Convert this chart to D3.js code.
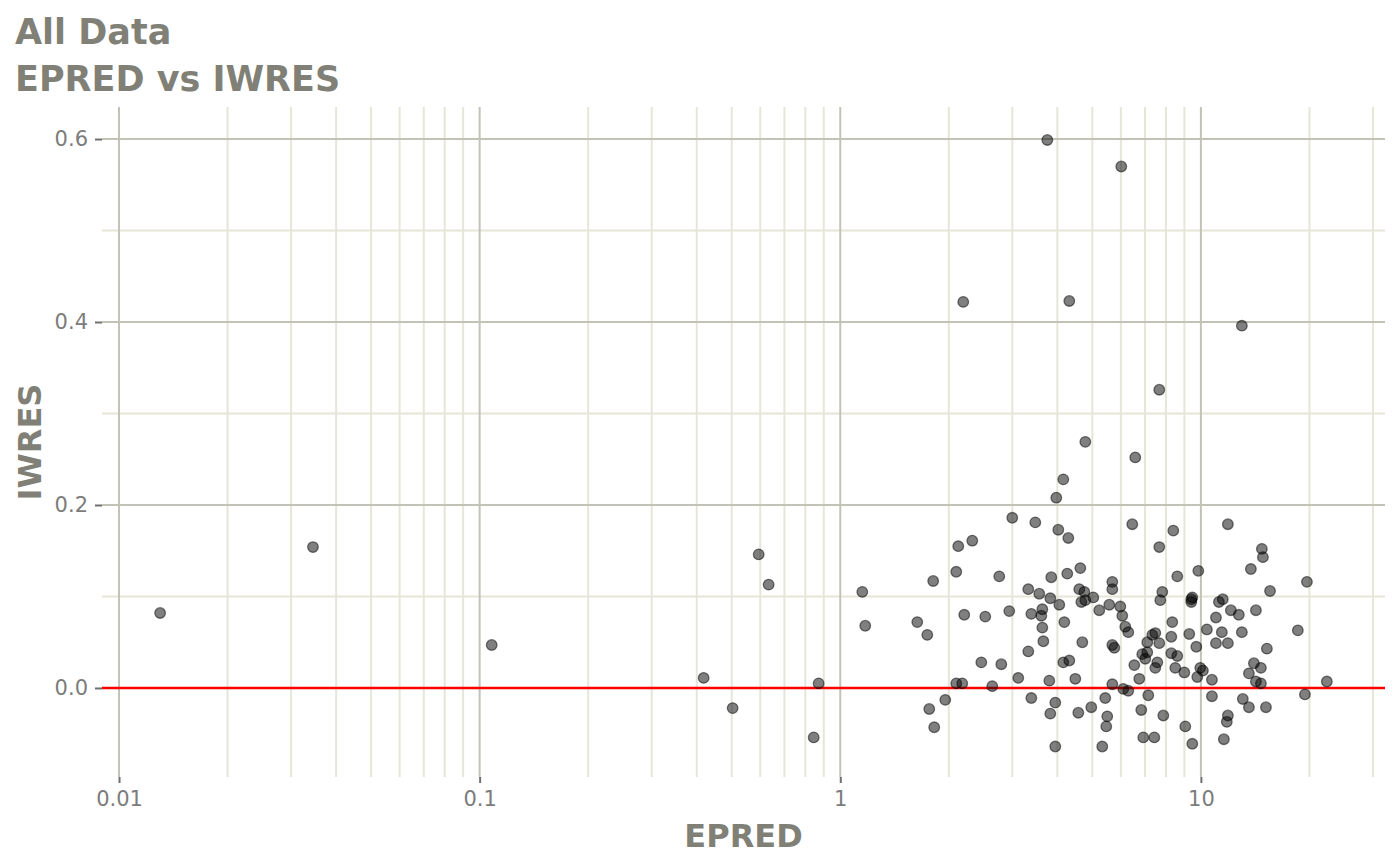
<!DOCTYPE html>
<html><head><meta charset="utf-8">
<script src="https://cdn.jsdelivr.net/npm/d3@7"></script>
<style>body{margin:0;background:#fff;} svg{display:block;font-family:"DejaVu Sans",sans-serif;}</style>
</head><body><svg id="chart" width="1400" height="865"></svg>
<script>
const titleLines = ["All Data", "EPRED vs IWRES"];
const xLabel = "EPRED", yLabel = "IWRES";
const xTicks = [0.01, 0.1, 1, 10];
const xTickLabels = ["0.01", "0.1", "1", "10"];
const yTicks = [0, 0.2, 0.4, 0.6];
const yTickLabels = ["0.0", "0.2", "0.4", "0.6"];
const yMinor = [0.1, 0.3, 0.5];
const xDomain = [0.00897, 32.4];
const yDomain = [-0.0973, 0.635];

const epred = [0.0130,0.0345,0.108,0.418,0.503,0.594,0.633,0.844,0.871,1.151,
1.173,1.635,1.743,1.765,1.810,1.822,1.955,2.097,2.124,2.097,
2.179,2.193,2.207,2.323,2.461,2.524,2.639,2.760,2.796,2.942,
2.999,3.116,3.322,3.322,3.387,3.387,3.474,3.563,3.633,3.610,
3.633,3.657,3.751,3.799,3.823,3.823,3.847,3.947,3.947,3.972,
4.023,4.049,4.154,4.154,4.181,4.289,4.261,4.316,4.316,4.485,
4.572,4.600,4.661,4.631,4.690,4.751,4.781,4.781,4.967,5.031,
5.226,5.327,5.430,5.500,5.465,5.571,5.680,5.680,5.680,5.680,
5.754,5.977,6.015,6.054,6.093,6.171,6.290,6.290,6.453,6.537,
6.577,6.747,6.834,6.878,6.923,7.011,7.101,7.147,7.101,7.333,
7.475,7.428,7.571,7.475,7.667,7.667,7.667,7.717,7.816,7.867,
8.278,8.278,8.330,8.385,8.492,8.601,8.601,8.996,9.052,9.285,
9.406,9.406,9.466,9.466,9.711,9.773,9.837,9.961,10.13,10.39,
10.73,10.73,11.01,11.01,11.43,11.22,11.50,11.88,11.88,11.88,
11.80,11.58,12.11,12.74,12.99,12.99,13.07,13.59,13.59,13.76,
14.03,14.21,14.21,14.67,14.67,14.76,14.86,15.15,15.24,15.55,
18.57,19.43,19.68,22.35];
const iwres = [0.082,0.154,0.047,0.011,-0.022,0.146,0.113,-0.054,0.005,0.105,
0.068,0.072,0.058,-0.023,0.117,-0.043,-0.013,0.005,0.155,0.127,
0.005,0.422,0.080,0.161,0.028,0.078,0.002,0.122,0.026,0.084,
0.186,0.011,0.108,0.040,-0.011,0.081,0.181,0.103,0.086,0.079,
0.066,0.051,0.599,0.008,-0.028,0.098,0.121,-0.064,-0.016,0.208,
0.173,0.091,0.028,0.228,0.072,0.164,0.125,0.030,0.423,0.010,
-0.027,0.108,0.094,0.131,0.050,0.105,0.096,0.269,-0.021,0.099,
0.085,-0.064,-0.011,-0.031,-0.042,0.091,0.116,0.108,0.004,0.047,
0.044,0.089,0.570,0.079,-0.001,0.067,0.061,-0.003,0.179,0.025,
0.252,0.010,-0.024,0.037,-0.054,0.032,0.039,-0.008,0.050,0.058,
0.060,-0.054,0.028,0.022,0.049,0.154,0.326,0.096,0.105,-0.030,
0.038,0.056,0.072,0.172,0.022,0.035,0.122,0.017,-0.042,0.059,
0.094,0.097,0.099,-0.061,0.045,0.012,0.128,0.022,0.019,0.064,
0.009,-0.009,0.077,0.049,0.061,0.094,0.097,0.179,0.049,-0.030,
-0.037,-0.056,0.085,0.080,0.061,0.396,-0.012,-0.021,0.016,0.130,
0.027,0.085,0.007,0.005,0.022,0.152,0.143,-0.021,0.043,0.106,
0.063,-0.007,0.116,0.007];

const W = 1400, H = 865;
const panel = {left: 102, right: 1385, top: 107, bottom: 777};
const svg = d3.select("#chart");
const x = d3.scaleLog().domain(xDomain).range([panel.left, panel.right]);
const y = d3.scaleLinear().domain(yDomain).range([panel.bottom, panel.top]);

const majorCol = "#c2c2b6", minorCol = "#e6e6d8", textCol = "#808077", tickCol = "#7c7c7c";

// minor x grid
const xMinor = [];
xTicks.forEach(d => { for (let k = 2; k <= 9; k++) { const v = k * d; if (v > xDomain[0] && v < xDomain[1]) xMinor.push(v); } });
const g = svg.append("g");
g.selectAll(".ymin").data(yMinor).join("line")
  .attr("x1", panel.left).attr("x2", panel.right)
  .attr("y1", d => y(d)).attr("y2", d => y(d))
  .attr("stroke", minorCol).attr("stroke-width", 2);
g.selectAll(".xmin").data(xMinor).join("line")
  .attr("x1", d => x(d)).attr("x2", d => x(d))
  .attr("y1", panel.top).attr("y2", panel.bottom)
  .attr("stroke", minorCol).attr("stroke-width", 2);
g.selectAll(".ymaj").data(yTicks).join("line")
  .attr("x1", panel.left).attr("x2", panel.right)
  .attr("y1", d => y(d)).attr("y2", d => y(d))
  .attr("stroke", majorCol).attr("stroke-width", 2);
g.selectAll(".xmaj").data(xTicks).join("line")
  .attr("x1", d => x(d)).attr("x2", d => x(d))
  .attr("y1", panel.top).attr("y2", panel.bottom)
  .attr("stroke", majorCol).attr("stroke-width", 2);

// axes
const xAxis = d3.axisBottom(x).tickValues(xTicks).tickFormat((d, i) => xTickLabels[i]).tickSize(6).tickPadding(8);
const yAxis = d3.axisLeft(y).tickValues(yTicks).tickFormat((d, i) => yTickLabels[i]).tickSize(7).tickPadding(7);
const gx = svg.append("g").attr("transform", `translate(0,${panel.bottom})`).call(xAxis);
const gy = svg.append("g").attr("transform", `translate(${panel.left},0)`).call(yAxis);
[gx, gy].forEach(a => {
  a.select(".domain").remove();
  a.selectAll(".tick line").attr("stroke", "#707070").attr("stroke-width", 2);
  a.selectAll(".tick text").attr("fill", tickCol).style("font-size", "21px").style("font-family", "DejaVu Sans");
});

// zero line
svg.append("line").attr("x1", panel.left).attr("x2", panel.right)
  .attr("y1", y(0)).attr("y2", y(0)).attr("stroke", "#ff0000").attr("stroke-width", 2.5);

// points
svg.append("g").selectAll("circle").data(epred.map((e, i) => [e, iwres[i]])).join("circle")
  .attr("cx", d => x(d[0])).attr("cy", d => y(d[1])).attr("r", 5.3)
  .attr("fill", "#000").attr("fill-opacity", 0.5)
  .attr("stroke", "#000").attr("stroke-opacity", 0.5).attr("stroke-width", 1.3);

// titles
svg.append("text").attr("x", 15).attr("y", 44).text(titleLines[0])
  .attr("fill", textCol).style("font-weight", "bold").style("font-size", "35px");
svg.append("text").attr("x", 15).attr("y", 91).text(titleLines[1])
  .attr("fill", textCol).style("font-weight", "bold").style("font-size", "35px");
svg.append("text").attr("x", (panel.left + panel.right) / 2).attr("y", 847).attr("text-anchor", "middle")
  .text(xLabel).attr("fill", textCol).style("font-weight", "bold").style("font-size", "32px");
svg.append("text").attr("transform", `translate(41,${(panel.top + panel.bottom) / 2}) rotate(-90)`)
  .attr("text-anchor", "middle").text(yLabel).attr("fill", textCol)
  .style("font-weight", "bold").style("font-size", "32px");
</script></body></html>
